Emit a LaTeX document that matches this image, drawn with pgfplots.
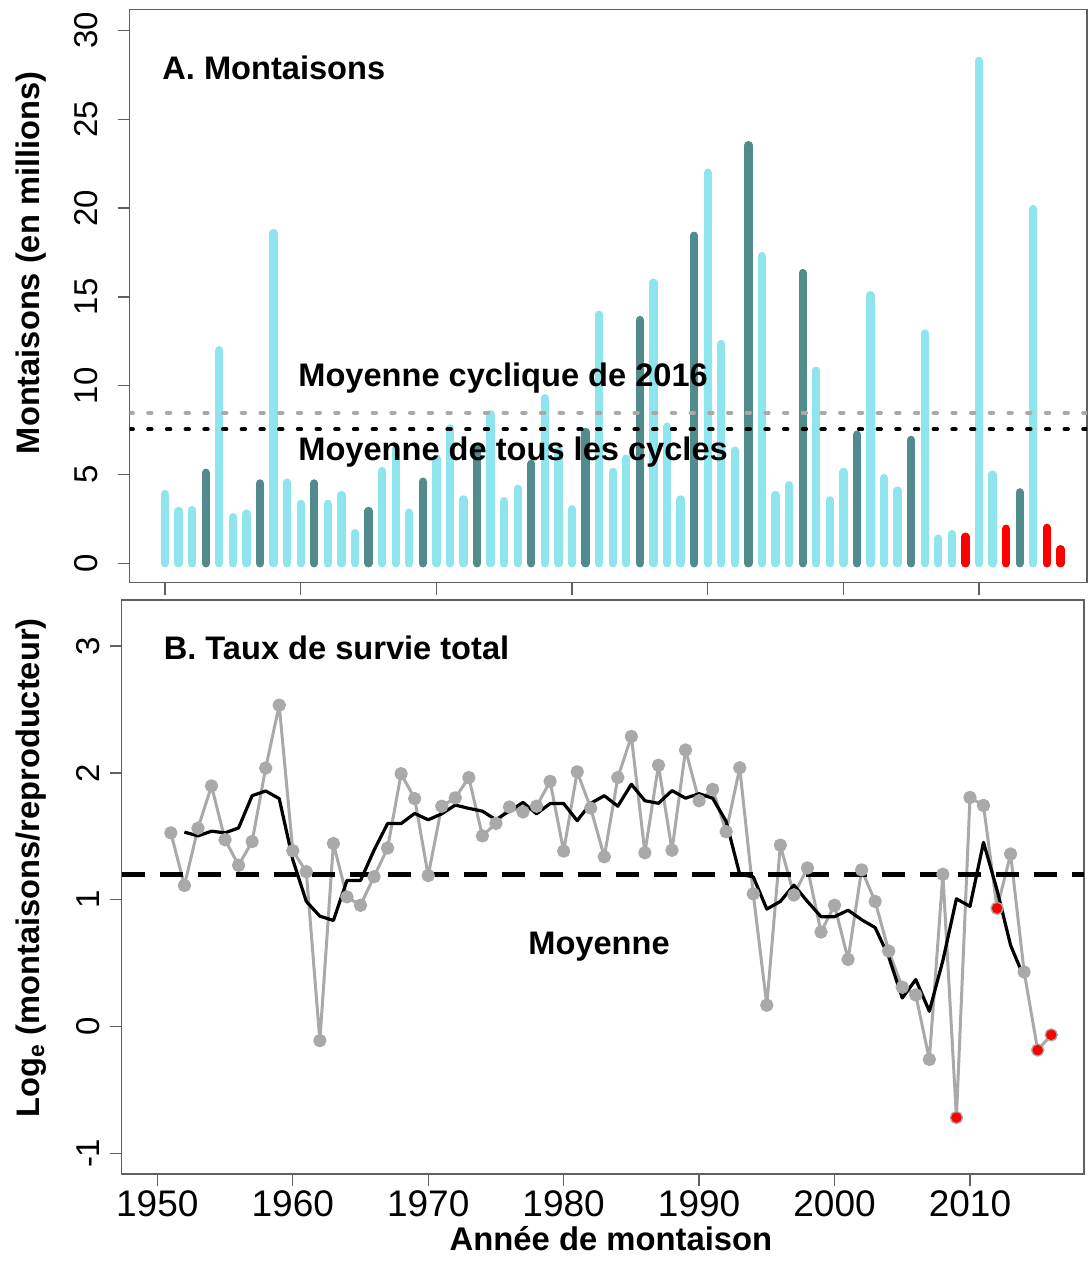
\documentclass[border=0pt]{standalone}
\usepackage{pgfplots}
\pgfplotsset{compat=1.18}
\usepackage{fontspec}
\setmainfont{Liberation Sans}
\definecolor{lightc}{HTML}{8EE5EE}
\definecolor{darkc}{HTML}{528B8B}
\definecolor{ptgray}{HTML}{A9A9A9}
\definecolor{framec}{HTML}{606060}
\pgfplotsset{
 mystyle/.style={scale only axis, anchor=south west,
  axis line style={framec, line width=0.7pt},
  tick style={framec, line width=0.7pt},
  tick align=outside, major tick length=6pt,
  xtick pos=bottom, ytick pos=left,
  /pgf/number format/assume math mode=true,
  /pgf/number format/1000 sep={},
  yticklabel style={rotate=90, anchor=south, inner sep=0pt, font=\fontsize{16.5}{16.5}\selectfont},
  xticklabel style={anchor=north, inner sep=0pt, font=\fontsize{18.5}{18.5}\selectfont}}
}
\begin{document}
\begin{tikzpicture}
\useasboundingbox (0,0) rectangle (544pt,632pt);
% ---------- Panel A ----------
\begin{axis}[mystyle, at={(64.75pt,340.65pt)}, width=478.75pt, height=286.7pt,
  xmin=1947.38, xmax=2017.96, ymin=-1.09, ymax=31.2,
  xtick={1950,1960,...,2010}, xticklabels={}, ytick={0,5,...,30},
  yticklabel shift=9.6pt]
\addplot[lightc, ycomb, line width=4.15pt, line cap=round, no markers] coordinates {
(1950,3.9) (1951,2.95) (1952,3.0) (1954,12.0) (1955,2.6) (1956,2.8) (1958,18.6) (1959,4.55)
(1960,3.35) (1962,3.35) (1963,3.85) (1964,1.7) (1966,5.2) (1967,6.45) (1968,2.85)
(1970,5.9) (1971,7.6) (1972,3.6) (1974,8.4) (1975,3.5) (1976,4.2) (1978,9.3) (1979,6.35)
(1980,3.05) (1982,14.0) (1983,5.15) (1984,5.9) (1986,15.8) (1987,7.7) (1988,3.6)
(1990,22.0) (1991,12.35) (1992,6.35) (1994,17.3) (1995,3.85) (1996,4.4) (1998,10.85) (1999,3.55)
(2000,5.15) (2002,15.1) (2003,4.8) (2004,4.1) (2006,12.95) (2007,1.4) (2008,1.65)
(2010,28.3) (2011,5.0) (2014,19.95)};
\addplot[darkc, ycomb, line width=4.15pt, line cap=round, no markers] coordinates {
(1953,5.1) (1957,4.5) (1961,4.5) (1965,2.95) (1969,4.6) (1973,6.55) (1977,5.6) (1981,7.4)
(1985,13.7) (1989,18.45) (1993,23.55) (1997,16.35) (2001,7.25) (2005,6.95) (2013,4.0)};
\addplot[red, ycomb, line width=4.15pt, line cap=round, no markers] coordinates {
(2009,1.5) (2012,1.95) (2015,2.0) (2016,0.8)};
\addplot[ptgray, line width=2pt, line cap=round, dash pattern=on 1.7pt off 7.65pt] coordinates {(1947.38,8.48) (2017.96,8.48)};
\addplot[black, line width=2pt, line cap=round, dash pattern=on 1.7pt off 7.65pt] coordinates {(1947.38,7.55) (2017.96,7.55)};
\end{axis}
% ---------- Panel B ----------
\begin{axis}[mystyle, at={(60.85pt,45pt)}, width=481.15pt, height=287pt,
  xmin=1947.37, xmax=2018.42, ymin=-1.163, ymax=3.363,
  xtick={1950,1960,...,2010}, ytick={-1,0,1,2,3},
  yticklabel shift=4.85pt, xticklabel shift=2pt]
\addplot[ptgray, line width=1.5pt, line join=round, mark=*, mark size=2.6pt, mark options={solid, fill=ptgray, draw=ptgray}] coordinates {
(1951,1.527) (1952,1.112) (1953,1.563) (1954,1.897) (1955,1.473) (1956,1.271) (1957,1.458) (1958,2.038) (1959,2.534)
(1960,1.386) (1961,1.22) (1962,-0.111) (1963,1.443) (1964,1.022) (1965,0.956) (1966,1.181) (1967,1.407) (1968,1.993) (1969,1.797)
(1970,1.19) (1971,1.737) (1972,1.803) (1973,1.963) (1974,1.503) (1975,1.602) (1976,1.731) (1977,1.692) (1978,1.737) (1979,1.933)
(1980,1.383) (1981,2.008) (1982,1.722) (1983,1.338) (1984,1.963) (1985,2.287) (1986,1.37) (1987,2.06) (1988,1.39) (1989,2.18)
(1990,1.78) (1991,1.87) (1992,1.536) (1993,2.04) (1994,1.046) (1995,0.168) (1996,1.43) (1997,1.037) (1998,1.25) (1999,0.745)
(2000,0.956) (2001,0.529) (2002,1.235) (2003,0.986) (2004,0.595) (2005,0.31) (2006,0.249) (2007,-0.26) (2008,1.2) (2009,-0.718)
(2010,1.806) (2011,1.743) (2012,0.932) (2013,1.36) (2014,0.43) (2015,-0.186) (2016,-0.066)};
\addplot[black, line width=2.7pt, dash pattern=on 11.5pt off 7.5pt] coordinates {(1947.37,1.2) (2018.42,1.2)};
\addplot[black, line width=1.6pt, line join=round, no markers] coordinates {
(1952,1.533) (1953,1.503) (1954,1.54) (1955,1.527) (1956,1.566) (1957,1.82) (1958,1.857) (1959,1.797)
(1960,1.316) (1961,0.986) (1962,0.87) (1963,0.836) (1964,1.151) (1965,1.151) (1966,1.39) (1967,1.6) (1968,1.6) (1969,1.68)
(1970,1.63) (1971,1.677) (1972,1.746) (1973,1.72) (1974,1.698) (1975,1.63) (1976,1.7) (1977,1.767) (1978,1.677) (1979,1.758)
(1980,1.758) (1981,1.623) (1982,1.76) (1983,1.82) (1984,1.737) (1985,1.91) (1986,1.78) (1987,1.76) (1988,1.86) (1989,1.80)
(1990,1.836) (1991,1.80) (1992,1.617) (1993,1.20) (1994,1.18) (1995,0.926) (1996,0.986) (1997,1.115) (1998,0.986) (1999,0.866)
(2000,0.866) (2001,0.917) (2002,0.842) (2003,0.78) (2004,0.55) (2005,0.225) (2006,0.37) (2007,0.12) (2008,0.52) (2009,1.007)
(2010,0.947) (2011,1.452) (2012,1.076) (2013,0.64) (2014,0.385)};
\addplot[only marks, mark=*, mark size=2.4pt, red, mark options={fill=red, draw=red}] coordinates {
(2009,-0.718) (2012,0.932) (2015,-0.186) (2016,-0.066)};
\end{axis}
% ---------- Texts ----------
\node[anchor=base west, inner sep=0pt, font=\bfseries\fontsize{16.3}{16.3}\selectfont] at (81pt,592.1pt) {A. Montaisons};
\node[anchor=base west, inner sep=0pt, font=\bfseries\fontsize{16.3}{16.3}\selectfont] at (149pt,438.65pt) {Moyenne cyclique de 2016};
\node[anchor=base west, inner sep=0pt, font=\bfseries\fontsize{16.3}{16.3}\selectfont] at (149pt,401.5pt) {Moyenne de tous les cycles};
\node[anchor=base west, inner sep=0pt, font=\bfseries\fontsize{16.3}{16.3}\selectfont] at (81.7pt,302.3pt) {B. Taux de survie total};
\node[anchor=base west, inner sep=0pt, font=\bfseries\fontsize{16.3}{16.3}\selectfont] at (264pt,154.6pt) {Moyenne};
\node[rotate=90, anchor=base, inner sep=0pt, font=\bfseries\fontsize{16.3}{16.3}\selectfont] at (19.5pt,500.5pt) {Montaisons (en millions)};
\node[rotate=90, anchor=base, inner sep=0pt, font=\bfseries\fontsize{16.3}{16.3}\selectfont] at (19.5pt,198pt) {Log\textsubscript{e} (montaisons/reproducteur)};
\node[anchor=base, inner sep=0pt, font=\bfseries\fontsize{16.4}{16.4}\selectfont] at (305.5pt,6.5pt) {Année de montaison};
\end{tikzpicture}
\end{document}
